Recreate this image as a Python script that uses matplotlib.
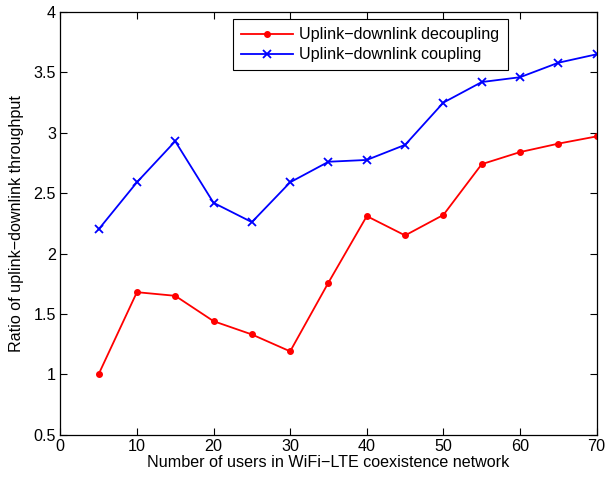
import matplotlib
matplotlib.use("Agg")
import matplotlib.pyplot as plt

users = [5, 10, 15, 20, 25, 30, 35, 40, 45, 50, 55, 60, 65, 70]
decoupling = [1.00, 1.68, 1.65, 1.44, 1.33, 1.19, 1.76, 2.31, 2.15, 2.32, 2.74, 2.84, 2.91, 2.97]
coupling = [2.20, 2.59, 2.93, 2.42, 2.26, 2.59, 2.76, 2.775, 2.90, 3.25, 3.42, 3.46, 3.58, 3.65]
xticks = [0, 10, 20, 30, 40, 50, 60, 70]
yticks = [0.5, 1, 1.5, 2, 2.5, 3, 3.5, 4]

plt.rcParams['font.family'] = ['Liberation Sans', 'DejaVu Sans']
FS = 11.6

fig = plt.figure(figsize=(6.07, 4.78), dpi=100)
ax = fig.add_axes([0.0993, 0.0906, 0.8837, 0.8843])

ax.plot(users, decoupling, color='red', marker='.', markersize=8, linewidth=1.3,
        label='Uplink\u2212downlink decoupling')
ax.plot(users, coupling, color='blue', marker='x', markersize=6, markeredgewidth=1.3,
        linewidth=1.3, label='Uplink\u2212downlink coupling')

ax.set_xlim(0, 70)
ax.set_ylim(0.5, 4)
ax.set_xticks(xticks)
ax.set_yticks(yticks)
ax.set_yticklabels([('%g' % v) for v in yticks])
ax.tick_params(direction='in', top=True, right=True, length=5, labelsize=FS, width=0.8, pad=3)
for s in ax.spines.values():
    s.set_linewidth(0.9)

ax.set_xlabel('Number of users in WiFi\u2212LTE coexistence network', fontsize=FS, labelpad=1)
ax.set_ylabel('Ratio of uplink\u2212downlink throughput', fontsize=FS, labelpad=7)

leg = ax.legend(loc='upper left', bbox_to_anchor=(0.3225, 0.9827), fontsize=FS,
                fancybox=False, edgecolor='black', framealpha=1, borderaxespad=0,
                handlelength=3.2, handletextpad=0.4, borderpad=0.5, labelspacing=0.3)
leg.get_frame().set_linewidth(0.8)

fig.savefig('out.png', dpi=100)
